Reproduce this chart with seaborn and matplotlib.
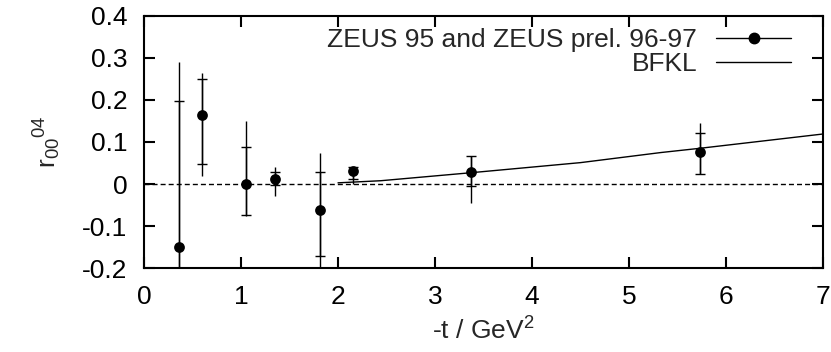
import numpy as np
import pandas as pd
import matplotlib
matplotlib.use("Agg")
import matplotlib.pyplot as plt
import seaborn as sns
from matplotlib.lines import Line2D

# data
t_vals = [0.36, 0.60, 1.05, 1.35, 1.81, 2.15, 3.37, 5.73]
r_vals = [-0.149, 0.163, 0.001, 0.012, -0.062, 0.030, 0.029, 0.077]
stat_hi = [0.198, 0.249, 0.088, 0.029, 0.029, 0.041, 0.066, 0.122]
stat_lo = [-0.30, 0.048, -0.074, -0.003, -0.171, 0.012, -0.004, 0.025]
tot_hi = [0.290, 0.265, 0.150, 0.041, 0.075, 0.041, 0.066, 0.144]
tot_lo = [-0.30, 0.019, -0.075, -0.028, -0.30, 0.001, -0.045, 0.025]

bfkl_t = [2.0, 2.44, 3.37, 4.5, 5.33, 5.73, 7.0]
bfkl_r = [0.003, 0.008, 0.027, 0.051, 0.075, 0.085, 0.119]

xticks = [0, 1, 2, 3, 4, 5, 6, 7]
yticks = [-0.2, -0.1, 0, 0.1, 0.2, 0.3, 0.4]
ytick_labels = ["-0.2", "-0.1", "0", "0.1", "0.2", "0.3", "0.4"]

sns.set_theme(style="ticks")
plt.rcParams['font.family'] = ['Liberation Sans', 'DejaVu Sans']
plt.rcParams['mathtext.default'] = 'regular'
FS = 19

fig = plt.figure(figsize=(8.31, 3.52), dpi=100)
ax = fig.add_axes([0.1733, 0.2378, 0.9904 - 0.1733, 0.9554 - 0.2378])

df = pd.DataFrame({"t": t_vals, "r": r_vals})
bf = pd.DataFrame({"t": bfkl_t, "r": bfkl_r})

ax.axhline(0, color="black", lw=1.0, ls=(0, (3.6, 2.2)), zorder=1)

r = np.array(r_vals)
# total errors (no caps)
ax.errorbar(t_vals, r_vals,
            yerr=[r - np.array(tot_lo), np.array(tot_hi) - r],
            fmt="none", ecolor="black", elinewidth=1.0, capsize=0, zorder=2)
# statistical errors (caps)
ax.errorbar(t_vals, r_vals,
            yerr=[r - np.array(stat_lo), np.array(stat_hi) - r],
            fmt="none", ecolor="black", elinewidth=1.0, capsize=3.6,
            capthick=1.0, zorder=2)

sns.scatterplot(data=df, x="t", y="r", ax=ax, color="black", s=60,
                edgecolor="black", linewidth=0, zorder=3, legend=False)
sns.lineplot(data=bf, x="t", y="r", ax=ax, color="black", lw=1.0, zorder=2,
             legend=False)

ax.set_xlim(0, 7)
ax.set_ylim(-0.2, 0.4)
ax.set_xticks(xticks)
ax.set_xticklabels([str(v) for v in xticks])
ax.set_yticks(yticks)
ax.set_yticklabels(ytick_labels)
ax.tick_params(direction="in", length=8, width=1.5, top=True, right=True,
               labelsize=FS, colors="black")
ax.tick_params(axis="x", pad=12)
ax.tick_params(axis="y", pad=12)
for s in ax.spines.values():
    s.set_linewidth(1.5)
    s.set_color("black")

ax.set_xlabel("-t / GeV$^2$", fontsize=FS, labelpad=6)
ax.set_ylabel("r$_{00}{}^{04}$", fontsize=FS, labelpad=14)

handles = [Line2D([], [], color="black", lw=1.0, marker="o", markersize=7.5),
           Line2D([], [], color="black", lw=1.0)]
ax.legend(handles, ["ZEUS 95 and ZEUS prel. 96-97", "BFKL"],
          loc="upper right", bbox_to_anchor=(0.953, 0.95),
          markerfirst=False, frameon=False, fontsize=FS,
          handlelength=2.84, handletextpad=0.72, labelspacing=0.0,
          borderaxespad=0.0, borderpad=0.0)

fig.savefig("out.png", dpi=100)
